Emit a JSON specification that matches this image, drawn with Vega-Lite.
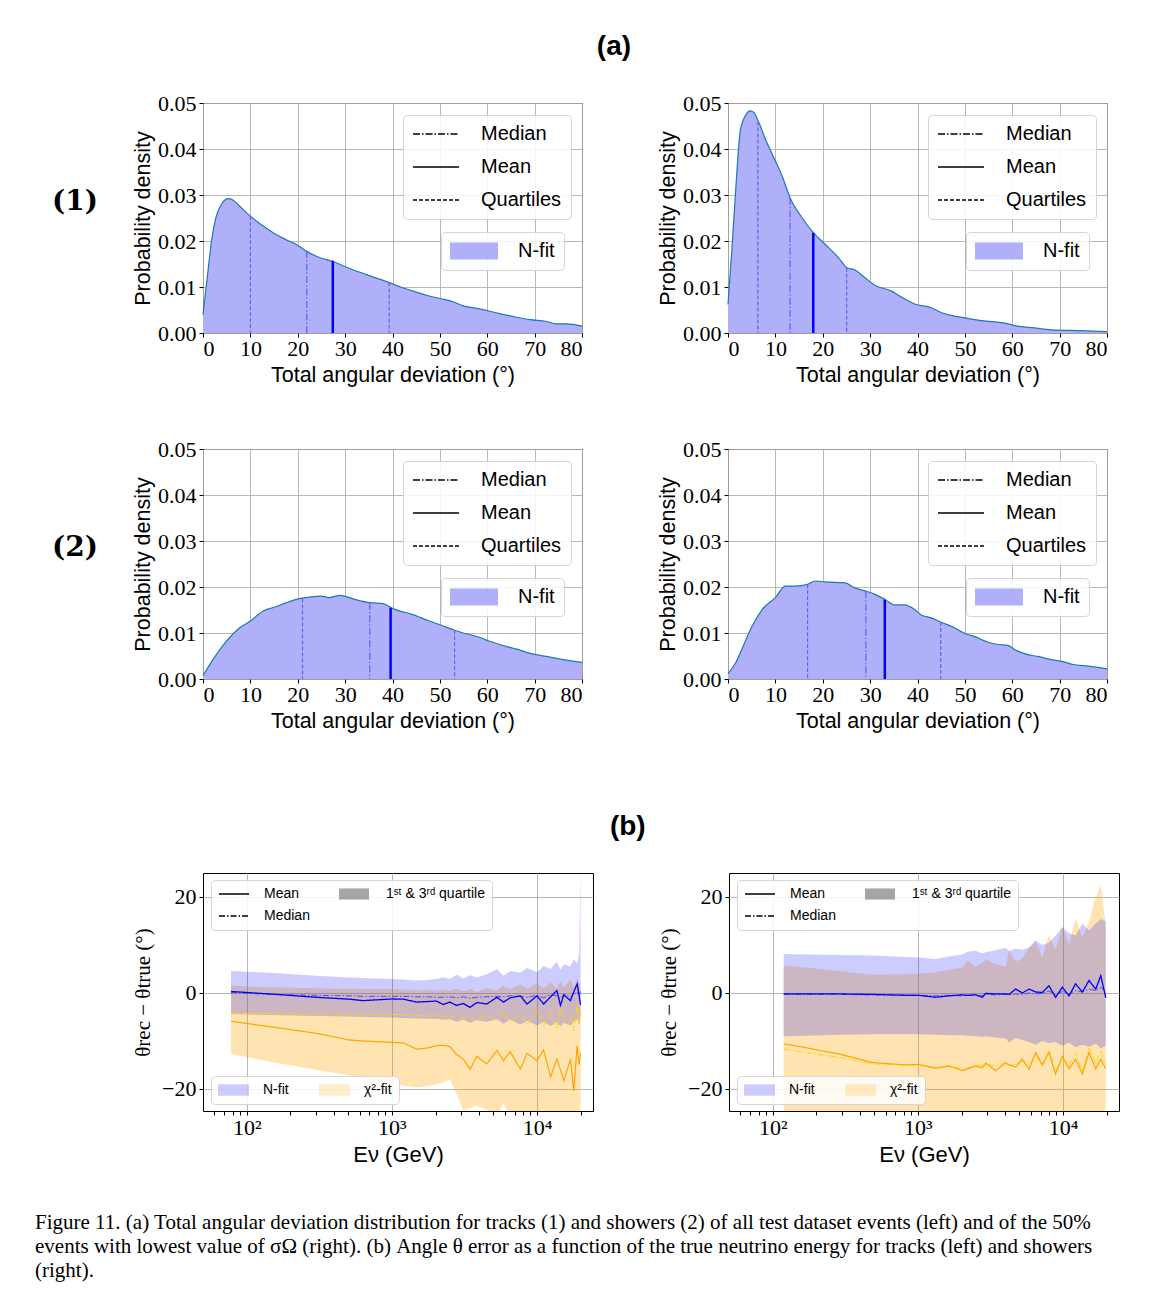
{
  "$schema": "https://vega.github.io/schema/vega-lite/v6.json",
  "background": "white",
  "padding": {"left": 35, "top": 32, "right": 5, "bottom": 5},
  "config": {
    "view": {"stroke": "black", "strokeWidth": 1},
    "axis": {"domain": false, "grid": true, "gridColor": "#b0b0b0", "gridWidth": 0.9, "tickColor": "black", "tickWidth": 1, "tickSize": 4, "labelFont": "Liberation Serif", "labelFontSize": 22, "labelColor": "black", "titleFont": "Liberation Sans", "titleFontSize": 21.5, "titleFontWeight": "normal", "titleColor": "black", "labelOverlap": false},
    "legend": {"labelFont": "Liberation Sans", "labelColor": "black", "labelLimit": 400, "symbolStrokeColor": "black"},
    "title": {"color": "black"}
  },
  "title": {
    "text": ["Figure 11. (a) Total angular deviation distribution for tracks (1) and showers (2) of all test dataset events (left) and of the 50%", "events with lowest value of σΩ (right). (b) Angle θ error as a function of the true neutrino energy for tracks (left) and showers", "(right)."],
    "orient": "bottom", "anchor": "start", "align": "left", "font": "Liberation Serif", "fontSize": 21, "fontWeight": "normal", "lineHeight": 24, "offset": 46, "dx": -17
  },
  "datasets": {
    "d1L": [{"x":0,"y":0.004},{"x":1,"y":0.013},{"x":1.8,"y":0.020},{"x":2.7,"y":0.025},{"x":3.9,"y":0.028},{"x":5.3,"y":0.0292},{"x":6.3,"y":0.0289},{"x":7.7,"y":0.0276},{"x":10,"y":0.0254},{"x":12.5,"y":0.0234},{"x":14.8,"y":0.0218},{"x":17.5,"y":0.0203},{"x":20,"y":0.0191},{"x":21.8,"y":0.0178},{"x":24.6,"y":0.0164},{"x":27.3,"y":0.0156},{"x":30.3,"y":0.0143},{"x":34.5,"y":0.0127},{"x":39.4,"y":0.0109},{"x":42,"y":0.0099},{"x":45,"y":0.0089},{"x":47.5,"y":0.0081},{"x":50,"y":0.0075},{"x":52.8,"y":0.0068},{"x":54.9,"y":0.0059},{"x":57.5,"y":0.0054},{"x":59.8,"y":0.0049},{"x":61.9,"y":0.0044},{"x":65.4,"y":0.0036},{"x":69,"y":0.0029},{"x":72.5,"y":0.0025},{"x":74.6,"y":0.002},{"x":76.7,"y":0.002},{"x":80,"y":0.0015}],
    "d1R": [{"x":0,"y":0.0062},{"x":0.8,"y":0.0178},{"x":1.7,"y":0.0323},{"x":2.6,"y":0.044},{"x":3.65,"y":0.0472},{"x":4.7,"y":0.0483},{"x":5.4,"y":0.048},{"x":6.5,"y":0.0458},{"x":7.9,"y":0.0421},{"x":10,"y":0.0374},{"x":11.4,"y":0.0342},{"x":13.1,"y":0.0294},{"x":15.6,"y":0.0251},{"x":18,"y":0.0218},{"x":20.5,"y":0.0193},{"x":23.3,"y":0.0164},{"x":25.1,"y":0.0142},{"x":26.8,"y":0.0137},{"x":28.9,"y":0.012},{"x":31,"y":0.0104},{"x":34.5,"y":0.0091},{"x":36.6,"y":0.0078},{"x":39.4,"y":0.0063},{"x":42.9,"y":0.0055},{"x":45.1,"y":0.0044},{"x":50,"y":0.0033},{"x":53.5,"y":0.0027},{"x":59.1,"y":0.002},{"x":60.5,"y":0.0016},{"x":64.7,"y":0.0011},{"x":68.2,"y":0.0007},{"x":74.5,"y":0.0005},{"x":80,"y":0.0003}],
    "d2L": [{"x":0,"y":0.0007},{"x":2.1,"y":0.0042},{"x":4.9,"y":0.0082},{"x":7.7,"y":0.0111},{"x":10,"y":0.0126},{"x":12.7,"y":0.0148},{"x":15.1,"y":0.0156},{"x":17.6,"y":0.0166},{"x":19.7,"y":0.0173},{"x":22.5,"y":0.0178},{"x":25,"y":0.018},{"x":26.7,"y":0.0177},{"x":28.9,"y":0.0182},{"x":32.4,"y":0.0172},{"x":35.2,"y":0.0166},{"x":38,"y":0.0164},{"x":40.1,"y":0.0153},{"x":44.3,"y":0.014},{"x":47.8,"y":0.0126},{"x":50,"y":0.0118},{"x":53.1,"y":0.0106},{"x":54.9,"y":0.01},{"x":57.7,"y":0.0093},{"x":60.5,"y":0.0082},{"x":64,"y":0.0071},{"x":66.2,"y":0.0065},{"x":68.3,"y":0.0058},{"x":72.5,"y":0.0049},{"x":76,"y":0.0042},{"x":80,"y":0.0036}],
    "d2R": [{"x":0,"y":0.0011},{"x":1.5,"y":0.0033},{"x":3.65,"y":0.0082},{"x":5,"y":0.0113},{"x":7.2,"y":0.0151},{"x":10,"y":0.0177},{"x":12.1,"y":0.0202},{"x":14.2,"y":0.0202},{"x":16.8,"y":0.0206},{"x":18.4,"y":0.0213},{"x":20.5,"y":0.0211},{"x":24.7,"y":0.0209},{"x":26.8,"y":0.0198},{"x":29.1,"y":0.0191},{"x":31,"y":0.0184},{"x":33.1,"y":0.0173},{"x":35.2,"y":0.0161},{"x":37.3,"y":0.0161},{"x":39.4,"y":0.0151},{"x":40.8,"y":0.0139},{"x":42.9,"y":0.0133},{"x":44.9,"y":0.0124},{"x":47.9,"y":0.0111},{"x":50,"y":0.0099},{"x":52.1,"y":0.0092},{"x":54.9,"y":0.008},{"x":57,"y":0.0075},{"x":59.1,"y":0.0073},{"x":60.5,"y":0.0064},{"x":63.3,"y":0.0053},{"x":65.4,"y":0.0049},{"x":68.2,"y":0.0042},{"x":70.3,"y":0.0039},{"x":73.1,"y":0.0031},{"x":75.2,"y":0.0029},{"x":80,"y":0.0022}],
    "s1L": [{"stat":"Quartiles","x":10.0,"top":0.0254},{"stat":"Median","x":21.9,"top":0.0178},{"stat":"Mean","x":27.4,"top":0.0157},{"stat":"Quartiles","x":39.3,"top":0.011}],
    "s1R": [{"stat":"Quartiles","x":6.3,"top":0.046},{"stat":"Median","x":13.1,"top":0.0294},{"stat":"Mean","x":18.0,"top":0.0218},{"stat":"Quartiles","x":25.05,"top":0.0142}],
    "s2L": [{"stat":"Quartiles","x":21.0,"top":0.0175},{"stat":"Median","x":35.2,"top":0.0166},{"stat":"Mean","x":39.6,"top":0.0155},{"stat":"Quartiles","x":53.1,"top":0.0106}],
    "s2R": [{"stat":"Quartiles","x":16.8,"top":0.0206},{"stat":"Median","x":29.1,"top":0.0191},{"stat":"Mean","x":33.1,"top":0.0173},{"stat":"Quartiles","x":44.9,"top":0.0124}],
    "bL": [
      {"E":78,"nMean":0.3,"nMed":0.1,"nQ1":-4.4,"nQ3":4.6,"cMean":-5.9,"cMed":-4.2,"cQ1":-12.7,"cQ3":1.5},
      {"E":143,"nMean":-0.2,"nMed":-0.3,"nQ1":-4.6,"nQ3":4.2,"cMean":-7.0,"cMed":-4.3,"cQ1":-14.3,"cQ3":1.2},
      {"E":300,"nMean":-0.9,"nMed":-0.5,"nQ1":-4.8,"nQ3":3.6,"cMean":-8.4,"cMed":-4.4,"cQ1":-16.0,"cQ3":1.0},
      {"E":510,"nMean":-1.3,"nMed":-0.6,"nQ1":-4.9,"nQ3":3.2,"cMean":-9.8,"cMed":-4.5,"cQ1":-17.2,"cQ3":0.9},
      {"E":631,"nMean":-1.6,"nMed":-0.7,"nQ1":-5.0,"nQ3":3.1,"cMean":-10.0,"cMed":-4.5,"cQ1":-17.8,"cQ3":0.8},
      {"E":1000,"nMean":-1.25,"nMed":-0.7,"nQ1":-5.1,"nQ3":2.9,"cMean":-10.3,"cMed":-4.5,"cQ1":-19.0,"cQ3":0.8},
      {"E":1200,"nMean":-1.3,"nMed":-0.7,"nQ1":-5.2,"nQ3":2.8,"cMean":-10.4,"cMed":-4.6,"cQ1":-19.3,"cQ3":0.7},
      {"E":1480,"nMean":-1.9,"nMed":-0.8,"nQ1":-5.3,"nQ3":2.6,"cMean":-11.7,"cMed":-4.7,"cQ1":-19.7,"cQ3":0.5},
      {"E":1730,"nMean":-1.8,"nMed":-0.8,"nQ1":-5.4,"nQ3":2.7,"cMean":-11.5,"cMed":-4.8,"cQ1":-19.5,"cQ3":0.6},
      {"E":2030,"nMean":-1.7,"nMed":-0.9,"nQ1":-5.4,"nQ3":2.9,"cMean":-11.0,"cMed":-4.7,"cQ1":-19.0,"cQ3":0.5},
      {"E":2260,"nMean":-2.4,"nMed":-0.9,"nQ1":-5.6,"nQ3":3.3,"cMean":-10.9,"cMed":-4.8,"cQ1":-18.6,"cQ3":0.7},
      {"E":2510,"nMean":-1.9,"nMed":-0.8,"nQ1":-5.5,"nQ3":2.9,"cMean":-11.2,"cMed":-5.2,"cQ1":-18.0,"cQ3":0.4},
      {"E":2790,"nMean":-2.6,"nMed":-1.0,"nQ1":-6.0,"nQ3":3.8,"cMean":-12.8,"cMed":-4.6,"cQ1":-21.0,"cQ3":0.9},
      {"E":3110,"nMean":-2.2,"nMed":-0.8,"nQ1":-5.6,"nQ3":3.0,"cMean":-13.8,"cMed":-5.3,"cQ1":-24.5,"cQ3":0.3},
      {"E":3460,"nMean":-3.0,"nMed":-1.1,"nQ1":-6.2,"nQ3":3.7,"cMean":-15.9,"cMed":-4.9,"cQ1":-24.0,"cQ3":0.8},
      {"E":3840,"nMean":-2.0,"nMed":-0.9,"nQ1":-5.7,"nQ3":3.2,"cMean":-13.2,"cMed":-5.6,"cQ1":-23.5,"cQ3":0.2},
      {"E":4510,"nMean":-2.3,"nMed":-0.8,"nQ1":-6.0,"nQ3":3.9,"cMean":-14.8,"cMed":-4.7,"cQ1":-24.3,"cQ3":1.0},
      {"E":5290,"nMean":-0.9,"nMed":-0.7,"nQ1":-5.5,"nQ3":5.0,"cMean":-12.0,"cMed":-5.8,"cQ1":-25.5,"cQ3":0.5},
      {"E":5880,"nMean":-1.9,"nMed":-0.8,"nQ1":-6.4,"nQ3":3.6,"cMean":-14.1,"cMed":-3.8,"cQ1":-23.0,"cQ3":1.5},
      {"E":6540,"nMean":-1.0,"nMed":-0.6,"nQ1":-5.6,"nQ3":4.6,"cMean":-12.2,"cMed":-6.2,"cQ1":-26,"cQ3":0.8},
      {"E":7670,"nMean":-0.6,"nMed":-0.7,"nQ1":-6.6,"nQ3":4.2,"cMean":-15.9,"cMed":-4.4,"cQ1":-25,"cQ3":1.8},
      {"E":8530,"nMean":-2.3,"nMed":-0.9,"nQ1":-5.8,"nQ3":5.2,"cMean":-12.6,"cMed":-6.6,"cQ1":-27,"cQ3":0.9},
      {"E":10000,"nMean":-0.6,"nMed":-0.5,"nQ1":-6.8,"nQ3":4.3,"cMean":-14.1,"cMed":-3.5,"cQ1":-26,"cQ3":2.0},
      {"E":11100,"nMean":-2.3,"nMed":-1.0,"nQ1":-6.0,"nQ3":5.6,"cMean":-11.9,"cMed":-6.8,"cQ1":-28,"cQ3":1.0},
      {"E":12400,"nMean":-0.8,"nMed":-0.4,"nQ1":-6.9,"nQ3":5.0,"cMean":-17.5,"cMed":-4.0,"cQ1":-26,"cQ3":2.2},
      {"E":13700,"nMean":0.5,"nMed":-0.6,"nQ1":-6.1,"nQ3":6.5,"cMean":-13.8,"cMed":-7.5,"cQ1":-29,"cQ3":0.8},
      {"E":14500,"nMean":-2.6,"nMed":-1.2,"nQ1":-7.0,"nQ3":4.8,"cMean":-16.0,"cMed":-3.0,"cQ1":-27,"cQ3":2.5},
      {"E":15300,"nMean":-0.4,"nMed":-0.3,"nQ1":-6.2,"nQ3":6.0,"cMean":-18.3,"cMed":-6.0,"cQ1":-28,"cQ3":1.2},
      {"E":17000,"nMean":-1.6,"nMed":-0.8,"nQ1":-6.8,"nQ3":5.5,"cMean":-13.8,"cMed":-4.5,"cQ1":-26,"cQ3":2.8},
      {"E":17900,"nMean":0.2,"nMed":-0.2,"nQ1":-6.0,"nQ3":7.0,"cMean":-20.4,"cMed":-7.9,"cQ1":-30,"cQ3":1.0},
      {"E":18900,"nMean":1.9,"nMed":0.2,"nQ1":-5.5,"nQ3":6.2,"cMean":-11.0,"cMed":-2.3,"cQ1":-25,"cQ3":3.0},
      {"E":19500,"nMean":-0.5,"nMed":-0.5,"nQ1":-6.5,"nQ3":8.0,"cMean":-15.0,"cMed":-6.5,"cQ1":-28,"cQ3":2.0},
      {"E":19950,"nMean":-2.5,"nMed":0.3,"nQ1":-5.0,"nQ3":26,"cMean":-12.5,"cMed":-4.0,"cQ1":-27,"cQ3":1.5}
    ],
    "bR": [
      {"E":119,"nMean":-0.2,"nMed":-0.3,"nQ1":-9.0,"nQ3":8.1,"cMean":-10.6,"cMed":-11.7,"cQ1":-35,"cQ3":5.8},
      {"E":168,"nMean":-0.2,"nMed":-0.3,"nQ1":-8.9,"nQ3":8.0,"cMean":-11.4,"cMed":-12.4,"cQ1":-35,"cQ3":5.3},
      {"E":285,"nMean":-0.2,"nMed":-0.3,"nQ1":-8.7,"nQ3":7.9,"cMean":-12.7,"cMed":-13.4,"cQ1":-35,"cQ3":4.6},
      {"E":484,"nMean":-0.3,"nMed":-0.4,"nQ1":-8.6,"nQ3":7.8,"cMean":-14.5,"cMed":-14.8,"cQ1":-35,"cQ3":3.8},
      {"E":822,"nMean":-0.5,"nMed":-0.4,"nQ1":-8.6,"nQ3":7.5,"cMean":-15.0,"cMed":-15.0,"cQ1":-35,"cQ3":3.9},
      {"E":1016,"nMean":-0.5,"nMed":-0.5,"nQ1":-8.6,"nQ3":7.4,"cMean":-14.9,"cMed":-15.1,"cQ1":-35,"cQ3":4.0},
      {"E":1325,"nMean":-0.9,"nMed":-0.6,"nQ1":-8.7,"nQ3":7.1,"cMean":-15.7,"cMed":-15.5,"cQ1":-35,"cQ3":4.3},
      {"E":1637,"nMean":-0.6,"nMed":-0.5,"nQ1":-8.8,"nQ3":7.6,"cMean":-15.2,"cMed":-15.3,"cQ1":-35,"cQ3":4.8},
      {"E":2023,"nMean":-0.4,"nMed":-0.6,"nQ1":-8.8,"nQ3":8.0,"cMean":-16.2,"cMed":-15.8,"cQ1":-35,"cQ3":5.3},
      {"E":2200,"nMean":-0.5,"nMed":-0.5,"nQ1":-8.9,"nQ3":8.6,"cMean":-15.8,"cMed":-15.6,"cQ1":-35,"cQ3":6.7},
      {"E":2500,"nMean":-0.4,"nMed":-0.4,"nQ1":-9.0,"nQ3":8.8,"cMean":-15.2,"cMed":-15.3,"cQ1":-35,"cQ3":5.5},
      {"E":2780,"nMean":-0.9,"nMed":-0.6,"nQ1":-9.2,"nQ3":8.2,"cMean":-15.6,"cMed":-15.0,"cQ1":-35,"cQ3":6.2},
      {"E":2930,"nMean":-0.1,"nMed":-0.3,"nQ1":-9.0,"nQ3":8.5,"cMean":-14.6,"cMed":-14.8,"cQ1":-35,"cQ3":7.0},
      {"E":3435,"nMean":-0.2,"nMed":-0.4,"nQ1":-9.3,"nQ3":8.9,"cMean":-16.2,"cMed":-15.2,"cQ1":-35,"cQ3":6.0},
      {"E":4025,"nMean":-0.2,"nMed":-0.3,"nQ1":-9.5,"nQ3":9.4,"cMean":-14.6,"cMed":-14.5,"cQ1":-35,"cQ3":5.5},
      {"E":4250,"nMean":-0.3,"nMed":-0.4,"nQ1":-10.3,"nQ3":8.8,"cMean":-15.0,"cMed":-15.2,"cQ1":-35,"cQ3":8.8},
      {"E":4720,"nMean":0.8,"nMed":-0.2,"nQ1":-9.4,"nQ3":9.2,"cMean":-15.4,"cMed":-14.8,"cQ1":-35,"cQ3":6.5},
      {"E":5250,"nMean":0.0,"nMed":-0.3,"nQ1":-9.8,"nQ3":9.0,"cMean":-13.8,"cMed":-14.2,"cQ1":-35,"cQ3":7.2},
      {"E":5840,"nMean":0.8,"nMed":0.0,"nQ1":-10.2,"nQ3":9.5,"cMean":-15.9,"cMed":-15.0,"cQ1":-35,"cQ3":9.5},
      {"E":6480,"nMean":0.2,"nMed":-0.2,"nQ1":-10.8,"nQ3":11.0,"cMean":-12.4,"cMed":-13.0,"cQ1":-35,"cQ3":10.6},
      {"E":7200,"nMean":0.1,"nMed":-0.1,"nQ1":-10.0,"nQ3":10.0,"cMean":-15.0,"cMed":-15.2,"cQ1":-35,"cQ3":7.5},
      {"E":8000,"nMean":1.5,"nMed":0.4,"nQ1":-10.5,"nQ3":10.5,"cMean":-12.4,"cMed":-12.0,"cQ1":-35,"cQ3":12.0},
      {"E":8890,"nMean":-0.9,"nMed":-0.4,"nQ1":-10.2,"nQ3":12.0,"cMean":-16.9,"cMed":-16.0,"cQ1":-35,"cQ3":9.0},
      {"E":9890,"nMean":1.2,"nMed":0.3,"nQ1":-11.0,"nQ3":13.7,"cMean":-13.2,"cMed":-13.8,"cQ1":-35,"cQ3":14.0},
      {"E":11000,"nMean":-0.6,"nMed":-0.2,"nQ1":-10.4,"nQ3":12.5,"cMean":-15.8,"cMed":-15.0,"cQ1":-35,"cQ3":10.0},
      {"E":12200,"nMean":1.9,"nMed":0.5,"nQ1":-11.3,"nQ3":12.0,"cMean":-13.8,"cMed":-12.5,"cQ1":-35,"cQ3":15.5},
      {"E":13600,"nMean":0.2,"nMed":0.2,"nQ1":-10.8,"nQ3":14.4,"cMean":-16.9,"cMed":-16.5,"cQ1":-35,"cQ3":11.5},
      {"E":15100,"nMean":2.6,"nMed":0.8,"nQ1":-11.2,"nQ3":13.0,"cMean":-12.4,"cMed":-11.5,"cQ1":-35,"cQ3":15.0},
      {"E":16800,"nMean":0.8,"nMed":0.5,"nQ1":-10.6,"nQ3":14.5,"cMean":-15.8,"cMed":-14.8,"cQ1":-35,"cQ3":20.0},
      {"E":18200,"nMean":3.6,"nMed":1.2,"nQ1":-11.5,"nQ3":15.4,"cMean":-13.8,"cMed":-12.0,"cQ1":-35,"cQ3":22.4},
      {"E":19700,"nMean":-1.0,"nMed":0.3,"nQ1":-11.0,"nQ3":15.0,"cMean":-15.8,"cMed":-15.0,"cQ1":-35,"cQ3":14.0}
    ]
  },
  "spacing": 80,
  "resolve": {"scale": {"fill": "independent", "strokeDash": "independent", "opacity": "independent"}, "legend": {"fill": "independent", "strokeDash": "independent", "opacity": "independent"}},
  "vconcat": [
    {
      "title": {"text": "(a)", "font": "Liberation Sans", "fontSize": 28, "fontWeight": "bold", "anchor": "middle", "dx": 33, "offset": 31},
      "spacing": 51,
      "resolve": {"scale": {"fill": "independent", "strokeDash": "independent", "opacity": "independent"}, "legend": {"fill": "independent", "strokeDash": "independent", "opacity": "independent"}},
      "vconcat": [
        {
          "title": {"text": "(1)", "orient": "left", "anchor": "end", "angle": 0, "align": "right", "baseline": "middle", "font": "DejaVu Serif", "fontSize": 28, "fontWeight": "bold", "offset": -12, "dy": 110},
          "spacing": 72,
          "resolve": {"scale": {"fill": "independent", "strokeDash": "independent", "opacity": "independent"}, "legend": {"fill": "independent", "strokeDash": "independent", "opacity": "independent"}},
          "hconcat": [
            {
              "width": 379, "height": 230,
              "layer": [
                {"data": {"name": "d1L"}, "mark": {"type": "area", "interpolate": "monotone", "clip": true},
                 "encoding": {
                   "x": {"field": "x", "type": "quantitative", "scale": {"domain": [0, 80], "nice": false}, "axis": {"title": "Total angular deviation (°)", "values": [0,5,10,15,20,25,30,35,40,45,50,55,60,65,70,75,80], "labelExpr": "datum.value % 10 === 0 ? datum.label : ''", "labelPadding": 1, "titlePadding": 5}},
                   "y": {"field": "y", "type": "quantitative", "scale": {"domain": [0, 0.05], "nice": false}, "axis": {"title": "Probability density", "values": [0,0.005,0.01,0.015,0.02,0.025,0.03,0.035,0.04,0.045,0.05], "labelExpr": "abs(datum.value*100 - round(datum.value*100)) < 0.001 ? format(datum.value, '.2f') : ''", "labelPadding": 3, "titlePadding": 3}},
                   "fill": {"datum": "N-fit", "scale": {"domain": ["N-fit"], "range": ["#b0b0fa"]}, "legend": {"title": null, "orient": "none", "legendX": 238, "legendY": 129, "symbolType": "M-1,-0.354H1V0.354H-1Z", "symbolSize": 2304, "symbolStrokeWidth": 0, "clipHeight": 20, "labelOffset": 20, "labelFontSize": 20, "padding": 9, "fillColor": "rgba(255,255,255,0.85)", "strokeColor": "#d5d5d5", "cornerRadius": 4}}
                 }},
                {"data": {"name": "d1L"}, "mark": {"type": "line", "interpolate": "monotone", "color": "#1f77b4", "strokeWidth": 1.2},
                 "encoding": {"x": {"field": "x", "type": "quantitative"}, "y": {"field": "y", "type": "quantitative"}}},
                {"data": {"name": "s1L"}, "transform": [{"filter": "false"}], "mark": {"type": "rule", "color": "black", "strokeWidth": 1.5},
                 "encoding": {"x": {"field": "x", "type": "quantitative"},
                   "strokeDash": {"field": "stat", "type": "nominal", "scale": {"domain": ["Median", "Mean", "Quartiles"], "range": [[7, 2, 1.5, 2], [1, 0], [4, 2]]}, "legend": {"title": null, "orient": "none", "legendX": 200, "legendY": 12, "symbolType": "stroke", "symbolSize": 2116, "symbolStrokeWidth": 1.5, "symbolStrokeColor": "black", "clipHeight": 20, "rowPadding": 13, "labelOffset": 21, "labelFontSize": 20, "padding": 9, "fillColor": "rgba(255,255,255,0.85)", "strokeColor": "#d5d5d5", "cornerRadius": 4}}}},
                {"data": {"name": "s1L"}, "transform": [{"filter": "datum.stat !== 'Mean'"}], "mark": {"type": "rule", "color": "#6060f5", "strokeWidth": 1.2},
                 "encoding": {"x": {"field": "x", "type": "quantitative"}, "y": {"field": "top", "type": "quantitative"}, "y2": {"datum": 0}, "strokeDash": {"field": "stat", "type": "nominal"}}},
                {"data": {"name": "s1L"}, "transform": [{"filter": "datum.stat === 'Mean'"}], "mark": {"type": "rule", "color": "#0000ff", "strokeWidth": 2.5},
                 "encoding": {"x": {"field": "x", "type": "quantitative"}, "y": {"field": "top", "type": "quantitative"}, "y2": {"datum": 0}, "strokeDash": {"field": "stat", "type": "nominal"}}}
              ]
            },
            {
              "width": 379, "height": 230,
              "layer": [
                {"data": {"name": "d1R"}, "mark": {"type": "area", "interpolate": "monotone", "clip": true},
                 "encoding": {
                   "x": {"field": "x", "type": "quantitative", "scale": {"domain": [0, 80], "nice": false}, "axis": {"title": "Total angular deviation (°)", "values": [0,5,10,15,20,25,30,35,40,45,50,55,60,65,70,75,80], "labelExpr": "datum.value % 10 === 0 ? datum.label : ''", "labelPadding": 1, "titlePadding": 5}},
                   "y": {"field": "y", "type": "quantitative", "scale": {"domain": [0, 0.05], "nice": false}, "axis": {"title": "Probability density", "values": [0,0.005,0.01,0.015,0.02,0.025,0.03,0.035,0.04,0.045,0.05], "labelExpr": "abs(datum.value*100 - round(datum.value*100)) < 0.001 ? format(datum.value, '.2f') : ''", "labelPadding": 3, "titlePadding": 3}},
                   "fill": {"datum": "N-fit", "scale": {"domain": ["N-fit"], "range": ["#b0b0fa"]}, "legend": {"title": null, "orient": "none", "legendX": 238, "legendY": 129, "symbolType": "M-1,-0.354H1V0.354H-1Z", "symbolSize": 2304, "symbolStrokeWidth": 0, "clipHeight": 20, "labelOffset": 20, "labelFontSize": 20, "padding": 9, "fillColor": "rgba(255,255,255,0.85)", "strokeColor": "#d5d5d5", "cornerRadius": 4}}
                 }},
                {"data": {"name": "d1R"}, "mark": {"type": "line", "interpolate": "monotone", "color": "#1f77b4", "strokeWidth": 1.2},
                 "encoding": {"x": {"field": "x", "type": "quantitative"}, "y": {"field": "y", "type": "quantitative"}}},
                {"data": {"name": "s1R"}, "transform": [{"filter": "false"}], "mark": {"type": "rule", "color": "black", "strokeWidth": 1.5},
                 "encoding": {"x": {"field": "x", "type": "quantitative"},
                   "strokeDash": {"field": "stat", "type": "nominal", "scale": {"domain": ["Median", "Mean", "Quartiles"], "range": [[7, 2, 1.5, 2], [1, 0], [4, 2]]}, "legend": {"title": null, "orient": "none", "legendX": 200, "legendY": 12, "symbolType": "stroke", "symbolSize": 2116, "symbolStrokeWidth": 1.5, "symbolStrokeColor": "black", "clipHeight": 20, "rowPadding": 13, "labelOffset": 21, "labelFontSize": 20, "padding": 9, "fillColor": "rgba(255,255,255,0.85)", "strokeColor": "#d5d5d5", "cornerRadius": 4}}}},
                {"data": {"name": "s1R"}, "transform": [{"filter": "datum.stat !== 'Mean'"}], "mark": {"type": "rule", "color": "#6060f5", "strokeWidth": 1.2},
                 "encoding": {"x": {"field": "x", "type": "quantitative"}, "y": {"field": "top", "type": "quantitative"}, "y2": {"datum": 0}, "strokeDash": {"field": "stat", "type": "nominal"}}},
                {"data": {"name": "s1R"}, "transform": [{"filter": "datum.stat === 'Mean'"}], "mark": {"type": "rule", "color": "#0000ff", "strokeWidth": 2.5},
                 "encoding": {"x": {"field": "x", "type": "quantitative"}, "y": {"field": "top", "type": "quantitative"}, "y2": {"datum": 0}, "strokeDash": {"field": "stat", "type": "nominal"}}}
              ]
            }
          ]
        },
        {
          "title": {"text": "(2)", "orient": "left", "anchor": "end", "angle": 0, "align": "right", "baseline": "middle", "font": "DejaVu Serif", "fontSize": 28, "fontWeight": "bold", "offset": -12, "dy": 110},
          "spacing": 72,
          "resolve": {"scale": {"fill": "independent", "strokeDash": "independent", "opacity": "independent"}, "legend": {"fill": "independent", "strokeDash": "independent", "opacity": "independent"}},
          "hconcat": [
            {
              "width": 379, "height": 230,
              "layer": [
                {"data": {"name": "d2L"}, "mark": {"type": "area", "interpolate": "monotone", "clip": true},
                 "encoding": {
                   "x": {"field": "x", "type": "quantitative", "scale": {"domain": [0, 80], "nice": false}, "axis": {"title": "Total angular deviation (°)", "values": [0,5,10,15,20,25,30,35,40,45,50,55,60,65,70,75,80], "labelExpr": "datum.value % 10 === 0 ? datum.label : ''", "labelPadding": 1, "titlePadding": 5}},
                   "y": {"field": "y", "type": "quantitative", "scale": {"domain": [0, 0.05], "nice": false}, "axis": {"title": "Probability density", "values": [0,0.005,0.01,0.015,0.02,0.025,0.03,0.035,0.04,0.045,0.05], "labelExpr": "abs(datum.value*100 - round(datum.value*100)) < 0.001 ? format(datum.value, '.2f') : ''", "labelPadding": 3, "titlePadding": 3}},
                   "fill": {"datum": "N-fit", "scale": {"domain": ["N-fit"], "range": ["#b0b0fa"]}, "legend": {"title": null, "orient": "none", "legendX": 238, "legendY": 129, "symbolType": "M-1,-0.354H1V0.354H-1Z", "symbolSize": 2304, "symbolStrokeWidth": 0, "clipHeight": 20, "labelOffset": 20, "labelFontSize": 20, "padding": 9, "fillColor": "rgba(255,255,255,0.85)", "strokeColor": "#d5d5d5", "cornerRadius": 4}}
                 }},
                {"data": {"name": "d2L"}, "mark": {"type": "line", "interpolate": "monotone", "color": "#1f77b4", "strokeWidth": 1.2},
                 "encoding": {"x": {"field": "x", "type": "quantitative"}, "y": {"field": "y", "type": "quantitative"}}},
                {"data": {"name": "s2L"}, "transform": [{"filter": "false"}], "mark": {"type": "rule", "color": "black", "strokeWidth": 1.5},
                 "encoding": {"x": {"field": "x", "type": "quantitative"},
                   "strokeDash": {"field": "stat", "type": "nominal", "scale": {"domain": ["Median", "Mean", "Quartiles"], "range": [[7, 2, 1.5, 2], [1, 0], [4, 2]]}, "legend": {"title": null, "orient": "none", "legendX": 200, "legendY": 12, "symbolType": "stroke", "symbolSize": 2116, "symbolStrokeWidth": 1.5, "symbolStrokeColor": "black", "clipHeight": 20, "rowPadding": 13, "labelOffset": 21, "labelFontSize": 20, "padding": 9, "fillColor": "rgba(255,255,255,0.85)", "strokeColor": "#d5d5d5", "cornerRadius": 4}}}},
                {"data": {"name": "s2L"}, "transform": [{"filter": "datum.stat !== 'Mean'"}], "mark": {"type": "rule", "color": "#6060f5", "strokeWidth": 1.2},
                 "encoding": {"x": {"field": "x", "type": "quantitative"}, "y": {"field": "top", "type": "quantitative"}, "y2": {"datum": 0}, "strokeDash": {"field": "stat", "type": "nominal"}}},
                {"data": {"name": "s2L"}, "transform": [{"filter": "datum.stat === 'Mean'"}], "mark": {"type": "rule", "color": "#0000ff", "strokeWidth": 2.5},
                 "encoding": {"x": {"field": "x", "type": "quantitative"}, "y": {"field": "top", "type": "quantitative"}, "y2": {"datum": 0}, "strokeDash": {"field": "stat", "type": "nominal"}}}
              ]
            },
            {
              "width": 379, "height": 230,
              "layer": [
                {"data": {"name": "d2R"}, "mark": {"type": "area", "interpolate": "monotone", "clip": true},
                 "encoding": {
                   "x": {"field": "x", "type": "quantitative", "scale": {"domain": [0, 80], "nice": false}, "axis": {"title": "Total angular deviation (°)", "values": [0,5,10,15,20,25,30,35,40,45,50,55,60,65,70,75,80], "labelExpr": "datum.value % 10 === 0 ? datum.label : ''", "labelPadding": 1, "titlePadding": 5}},
                   "y": {"field": "y", "type": "quantitative", "scale": {"domain": [0, 0.05], "nice": false}, "axis": {"title": "Probability density", "values": [0,0.005,0.01,0.015,0.02,0.025,0.03,0.035,0.04,0.045,0.05], "labelExpr": "abs(datum.value*100 - round(datum.value*100)) < 0.001 ? format(datum.value, '.2f') : ''", "labelPadding": 3, "titlePadding": 3}},
                   "fill": {"datum": "N-fit", "scale": {"domain": ["N-fit"], "range": ["#b0b0fa"]}, "legend": {"title": null, "orient": "none", "legendX": 238, "legendY": 129, "symbolType": "M-1,-0.354H1V0.354H-1Z", "symbolSize": 2304, "symbolStrokeWidth": 0, "clipHeight": 20, "labelOffset": 20, "labelFontSize": 20, "padding": 9, "fillColor": "rgba(255,255,255,0.85)", "strokeColor": "#d5d5d5", "cornerRadius": 4}}
                 }},
                {"data": {"name": "d2R"}, "mark": {"type": "line", "interpolate": "monotone", "color": "#1f77b4", "strokeWidth": 1.2},
                 "encoding": {"x": {"field": "x", "type": "quantitative"}, "y": {"field": "y", "type": "quantitative"}}},
                {"data": {"name": "s2R"}, "transform": [{"filter": "false"}], "mark": {"type": "rule", "color": "black", "strokeWidth": 1.5},
                 "encoding": {"x": {"field": "x", "type": "quantitative"},
                   "strokeDash": {"field": "stat", "type": "nominal", "scale": {"domain": ["Median", "Mean", "Quartiles"], "range": [[7, 2, 1.5, 2], [1, 0], [4, 2]]}, "legend": {"title": null, "orient": "none", "legendX": 200, "legendY": 12, "symbolType": "stroke", "symbolSize": 2116, "symbolStrokeWidth": 1.5, "symbolStrokeColor": "black", "clipHeight": 20, "rowPadding": 13, "labelOffset": 21, "labelFontSize": 20, "padding": 9, "fillColor": "rgba(255,255,255,0.85)", "strokeColor": "#d5d5d5", "cornerRadius": 4}}}},
                {"data": {"name": "s2R"}, "transform": [{"filter": "datum.stat !== 'Mean'"}], "mark": {"type": "rule", "color": "#6060f5", "strokeWidth": 1.2},
                 "encoding": {"x": {"field": "x", "type": "quantitative"}, "y": {"field": "top", "type": "quantitative"}, "y2": {"datum": 0}, "strokeDash": {"field": "stat", "type": "nominal"}}},
                {"data": {"name": "s2R"}, "transform": [{"filter": "datum.stat === 'Mean'"}], "mark": {"type": "rule", "color": "#0000ff", "strokeWidth": 2.5},
                 "encoding": {"x": {"field": "x", "type": "quantitative"}, "y": {"field": "top", "type": "quantitative"}, "y2": {"datum": 0}, "strokeDash": {"field": "stat", "type": "nominal"}}}
              ]
            }
          ]
        }
      ]
    },
    {
      "title": {"text": "(b)", "font": "Liberation Sans", "fontSize": 28, "fontWeight": "bold", "anchor": "middle", "dx": 36, "offset": 18},
      "resolve": {"scale": {"fill": "independent", "strokeDash": "independent", "opacity": "independent"}, "legend": {"fill": "independent", "strokeDash": "independent", "opacity": "independent"}},
      "vconcat": [
        {
          "title": {"text": "(1)", "orient": "left", "anchor": "end", "angle": 0, "align": "right", "baseline": "middle", "font": "DejaVu Serif", "fontSize": 28, "fontWeight": "bold", "offset": -24, "color": "rgba(0,0,0,0)"},
          "spacing": 64,
          "resolve": {"scale": {"fill": "independent", "strokeDash": "independent", "opacity": "independent"}, "legend": {"fill": "independent", "strokeDash": "independent", "opacity": "independent"}},
          "hconcat": [
            {
              "width": 390, "height": 238,
              "data": {"name": "bL"},
              "layer": [
                {"mark": {"type": "area", "clip": true, "opacity": 0.3},
                 "encoding": {
                   "x": {"field": "E", "type": "quantitative", "scale": {"type": "log", "domain": [50, 24300], "nice": false}, "axis": {"title": "Eν (GeV)", "titleFontSize": 22, "titlePadding": 6, "values": [60,70,80,90,100,200,300,400,500,600,700,800,900,1000,2000,3000,4000,5000,6000,7000,8000,9000,10000,20000], "labelExpr": "datum.value == 100 ? '10²' : datum.value == 1000 ? '10³' : datum.value == 10000 ? '10⁴' : ''", "gridOpacity": {"condition": {"test": "datum.value == 100 || datum.value == 1000 || datum.value == 10000", "value": 1}, "value": 0}, "labelPadding": 2}},
                   "y": {"field": "cQ1", "type": "quantitative", "scale": {"domain": [-24.6, 25], "nice": false}, "axis": {"title": "θrec − θtrue (°)", "titleFont": "Liberation Serif", "titleFontSize": 21, "values": [-20, 0, 20], "labelExpr": "datum.value < 0 ? '−' + abs(datum.value) : datum.label", "labelPadding": 3, "titlePadding": 8}},
                   "y2": {"field": "cQ3"},
                   "fill": {"datum": "χ²-fit", "scale": {"domain": ["N-fit", "χ²-fit"], "range": ["#0000ff", "#ffa500"]}, "legend": {"title": null, "orient": "none", "legendX": 8, "legendY": 203, "columns": 2, "symbolType": "M-1,-0.37H1V0.37H-1Z", "symbolSize": 961, "symbolStrokeWidth": 0, "symbolOpacity": 0.26, "clipHeight": 14, "columnPadding": 30, "labelOffset": 14, "labelFontSize": 14, "padding": 7, "fillColor": "rgba(255,255,255,0.85)", "strokeColor": "#d5d5d5", "cornerRadius": 4}}
                 }},
                {"mark": {"type": "area", "clip": true, "opacity": 0.2},
                 "encoding": {"x": {"field": "E", "type": "quantitative"}, "y": {"field": "nQ1", "type": "quantitative"}, "y2": {"field": "nQ3"}, "fill": {"datum": "N-fit"}}},
                {"transform": [{"filter": "false"}], "mark": {"type": "line", "color": "black", "strokeWidth": 1.5},
                 "encoding": {"x": {"field": "E", "type": "quantitative"}, "y": {"field": "nMean", "type": "quantitative"},
                   "strokeDash": {"datum": "Mean", "scale": {"domain": ["Mean", "Median", "1ˢᵗ & 3ʳᵈ quartile"], "range": [[1, 0], [6, 2, 1.5, 2], [0, 1000]]}, "legend": {"title": null, "orient": "none", "legendX": 8, "legendY": 7, "columns": 2, "symbolType": "stroke", "symbolSize": 900, "symbolStrokeColor": "black", "symbolStrokeWidth": 1.5, "clipHeight": 14, "rowPadding": 8, "columnPadding": 30, "labelOffset": 14, "labelFontSize": 14, "padding": 7, "fillColor": "rgba(255,255,255,0.85)", "strokeColor": "#d5d5d5", "cornerRadius": 4}}}},
                {"mark": {"type": "line", "clip": true, "color": "#ffd700", "strokeWidth": 1},
                 "encoding": {"x": {"field": "E", "type": "quantitative"}, "y": {"field": "cMed", "type": "quantitative"}, "strokeDash": {"datum": "Median"}}},
                {"mark": {"type": "line", "clip": true, "color": "#ffa500", "strokeWidth": 1.2},
                 "encoding": {"x": {"field": "E", "type": "quantitative"}, "y": {"field": "cMean", "type": "quantitative"}, "strokeDash": {"datum": "Mean"}}},
                {"mark": {"type": "line", "clip": true, "color": "#4a4aff", "strokeWidth": 1},
                 "encoding": {"x": {"field": "E", "type": "quantitative"}, "y": {"field": "nMed", "type": "quantitative"}, "strokeDash": {"datum": "Median"}}},
                {"mark": {"type": "line", "clip": true, "color": "#0000ff", "strokeWidth": 1.3},
                 "encoding": {"x": {"field": "E", "type": "quantitative"}, "y": {"field": "nMean", "type": "quantitative"}, "strokeDash": {"datum": "Mean"}}},
                {"transform": [{"filter": "false"}], "mark": {"type": "rect", "color": "black"},
                 "encoding": {"x": {"field": "E", "type": "quantitative"},
                   "opacity": {"datum": "1ˢᵗ & 3ʳᵈ quartile", "scale": {"domain": ["1ˢᵗ & 3ʳᵈ quartile"], "range": [0.35, 0.35]}, "legend": {"title": null, "orient": "none", "legendX": 136, "legendY": 14, "symbolType": "M-1,-0.37H1V0.37H-1Z", "symbolSize": 900, "symbolStrokeWidth": 0, "symbolFillColor": "black", "clipHeight": 14, "labelOffset": 14, "labelFontSize": 14, "labelExpr": "''", "padding": 0}}}}
              ]
            },
            {
              "width": 390, "height": 238,
              "data": {"name": "bR"},
              "layer": [
                {"mark": {"type": "area", "clip": true, "opacity": 0.3},
                 "encoding": {
                   "x": {"field": "E", "type": "quantitative", "scale": {"type": "log", "domain": [50, 24300], "nice": false}, "axis": {"title": "Eν (GeV)", "titleFontSize": 22, "titlePadding": 6, "values": [60,70,80,90,100,200,300,400,500,600,700,800,900,1000,2000,3000,4000,5000,6000,7000,8000,9000,10000,20000], "labelExpr": "datum.value == 100 ? '10²' : datum.value == 1000 ? '10³' : datum.value == 10000 ? '10⁴' : ''", "gridOpacity": {"condition": {"test": "datum.value == 100 || datum.value == 1000 || datum.value == 10000", "value": 1}, "value": 0}, "labelPadding": 2}},
                   "y": {"field": "cQ1", "type": "quantitative", "scale": {"domain": [-24.6, 25], "nice": false}, "axis": {"title": "θrec − θtrue (°)", "titleFont": "Liberation Serif", "titleFontSize": 21, "values": [-20, 0, 20], "labelExpr": "datum.value < 0 ? '−' + abs(datum.value) : datum.label", "labelPadding": 3, "titlePadding": 8}},
                   "y2": {"field": "cQ3"},
                   "fill": {"datum": "χ²-fit", "scale": {"domain": ["N-fit", "χ²-fit"], "range": ["#0000ff", "#ffa500"]}, "legend": {"title": null, "orient": "none", "legendX": 8, "legendY": 203, "columns": 2, "symbolType": "M-1,-0.37H1V0.37H-1Z", "symbolSize": 961, "symbolStrokeWidth": 0, "symbolOpacity": 0.26, "clipHeight": 14, "columnPadding": 30, "labelOffset": 14, "labelFontSize": 14, "padding": 7, "fillColor": "rgba(255,255,255,0.85)", "strokeColor": "#d5d5d5", "cornerRadius": 4}}
                 }},
                {"mark": {"type": "area", "clip": true, "opacity": 0.2},
                 "encoding": {"x": {"field": "E", "type": "quantitative"}, "y": {"field": "nQ1", "type": "quantitative"}, "y2": {"field": "nQ3"}, "fill": {"datum": "N-fit"}}},
                {"transform": [{"filter": "false"}], "mark": {"type": "line", "color": "black", "strokeWidth": 1.5},
                 "encoding": {"x": {"field": "E", "type": "quantitative"}, "y": {"field": "nMean", "type": "quantitative"},
                   "strokeDash": {"datum": "Mean", "scale": {"domain": ["Mean", "Median", "1ˢᵗ & 3ʳᵈ quartile"], "range": [[1, 0], [6, 2, 1.5, 2], [0, 1000]]}, "legend": {"title": null, "orient": "none", "legendX": 8, "legendY": 7, "columns": 2, "symbolType": "stroke", "symbolSize": 900, "symbolStrokeColor": "black", "symbolStrokeWidth": 1.5, "clipHeight": 14, "rowPadding": 8, "columnPadding": 30, "labelOffset": 14, "labelFontSize": 14, "padding": 7, "fillColor": "rgba(255,255,255,0.85)", "strokeColor": "#d5d5d5", "cornerRadius": 4}}}},
                {"mark": {"type": "line", "clip": true, "color": "#ffd700", "strokeWidth": 1},
                 "encoding": {"x": {"field": "E", "type": "quantitative"}, "y": {"field": "cMed", "type": "quantitative"}, "strokeDash": {"datum": "Median"}}},
                {"mark": {"type": "line", "clip": true, "color": "#ffa500", "strokeWidth": 1.2},
                 "encoding": {"x": {"field": "E", "type": "quantitative"}, "y": {"field": "cMean", "type": "quantitative"}, "strokeDash": {"datum": "Mean"}}},
                {"mark": {"type": "line", "clip": true, "color": "#4a4aff", "strokeWidth": 1},
                 "encoding": {"x": {"field": "E", "type": "quantitative"}, "y": {"field": "nMed", "type": "quantitative"}, "strokeDash": {"datum": "Median"}}},
                {"mark": {"type": "line", "clip": true, "color": "#0000ff", "strokeWidth": 1.3},
                 "encoding": {"x": {"field": "E", "type": "quantitative"}, "y": {"field": "nMean", "type": "quantitative"}, "strokeDash": {"datum": "Mean"}}},
                {"transform": [{"filter": "false"}], "mark": {"type": "rect", "color": "black"},
                 "encoding": {"x": {"field": "E", "type": "quantitative"},
                   "opacity": {"datum": "1ˢᵗ & 3ʳᵈ quartile", "scale": {"domain": ["1ˢᵗ & 3ʳᵈ quartile"], "range": [0.35, 0.35]}, "legend": {"title": null, "orient": "none", "legendX": 136, "legendY": 14, "symbolType": "M-1,-0.37H1V0.37H-1Z", "symbolSize": 900, "symbolStrokeWidth": 0, "symbolFillColor": "black", "clipHeight": 14, "labelOffset": 14, "labelFontSize": 14, "labelExpr": "''", "padding": 0}}}}
              ]
            }
          ]
        }
      ]
    }
  ]
}
